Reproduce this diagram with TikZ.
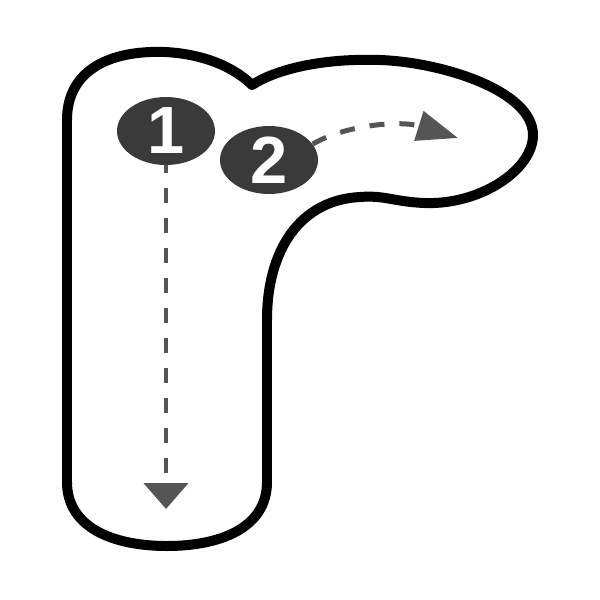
\documentclass[tikz,border=0pt]{standalone}
\usepackage{fontspec}
\setsansfont{Liberation Sans}
\usepackage{tikz}
\usetikzlibrary{shapes,arrows.meta}
\usetikzlibrary{calc}
\usetikzlibrary{positioning}

\definecolor{markgray}{RGB}{58,58,58}
\definecolor{dashgray}{RGB}{85,85,85}

\begin{document}
\begin{tikzpicture}[x=0.02cm,y=-0.02cm,
		outline/.style={line width=0.2cm,black,line join=round},
		marker/.style={ellipse,fill=markgray,minimum width=1.96cm,minimum height=1.36cm,inner sep=0pt,text=white,font=\fontsize{38}{38}\selectfont\sffamily\bfseries},
		dashline/.style={dashgray,line width=0.1cm,dash pattern=on 0.3cm off 0.3cm}]
			\useasboundingbox (0,0) rectangle (600,600);
			% letter outline
			\draw[outline] (67,480) -- (67,120)
			  .. controls (67,70) and (110,50) .. (165,52)
			  .. controls (205,54) and (235,68) .. (252,85)
			  .. controls (275,70) and (320,58) .. (380,60)
			  .. controls (440,62) and (533,90) .. (533,135)
			  .. controls (533,170) and (480,205) .. (425,203)
			  .. controls (395,202) and (385,195) .. (360,197)
			  .. controls (300,200) and (267,250) .. (267,320)
			  -- (267,482)
			  .. controls (267,528) and (220,546) .. (167,546)
			  .. controls (114,546) and (67,528) .. (67,482) -- cycle;
			% stroke order
			\node[marker] (m1) at (166,131) {1};
			\node[marker] (m2) at (269,160) {2};
			\coordinate (tip1) at (166,509);
			\coordinate (tip2) at (458,138);
			\draw[dashline,dash phase=0.15cm,-{Triangle[width=0.88cm,length=0.52cm]}] (m1) -- (tip1);
			\draw[dashline,-{Triangle[width=0.6cm,length=0.82cm]}] (m2.20) .. controls (345,125) and (400,120) .. (tip2);
			\end{tikzpicture}
\end{document}
